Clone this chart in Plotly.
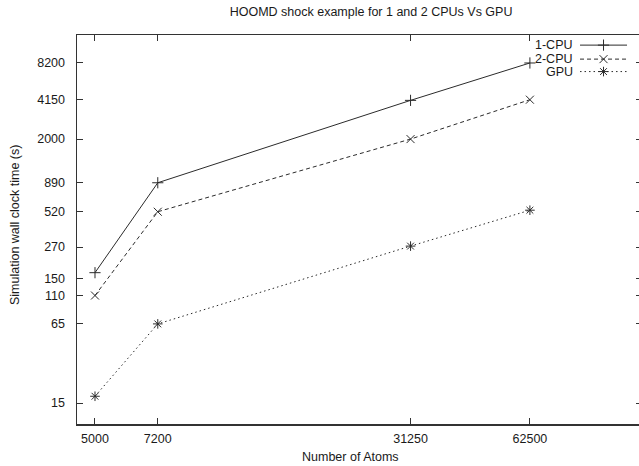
import plotly.graph_objects as go

# ---- data ----
atoms = [5000, 7200, 31250, 62500]
x_tick_labels = ["5000", "7200", "31250", "62500"]
cpu1_time = [168, 890, 4100, 8200]
cpu2_time = [110, 520, 2000, 4150]
gpu_time = [17, 65, 275, 535]
y_tick_values = [15, 65, 110, 150, 270, 520, 890, 2000, 4150, 8200]
series_names = ["1-CPU", "2-CPU", "GPU"]

FONT = "Liberation Sans, Arial, sans-serif"
INK = "#1a1a1a"
LINE = "#2b2b2b"
BORDER = "#333333"
FS = 12.5
MS = 8

styles = [
    dict(dash="solid", symbol="cross-thin-open"),
    dict(dash="4px,3px", symbol="x-thin-open"),
    dict(dash="1.5px,3px", symbol="asterisk-open"),
]

fig = go.Figure()
for name, vals, st in zip(series_names, [cpu1_time, cpu2_time, gpu_time], styles):
    fig.add_trace(go.Scatter(
        x=atoms, y=vals, name=name, mode="lines+markers",
        line=dict(color=LINE, width=1, dash=st["dash"]),
        marker=dict(symbol=st["symbol"], size=MS, color=LINE,
                    line=dict(color=LINE, width=1)),
        showlegend=False, hoverinfo="skip",
    ))

# ---- gnuplot-style key (text right-aligned, sample on the right) ----
key_rows_y = [0.974, 0.938, 0.906]
key_text_x = 0.8814
key_sample_x = [0.8903, 0.9735]
for name, st, ky in zip(series_names, styles, key_rows_y):
    fig.add_trace(go.Scatter(
        x=key_sample_x, y=[ky, ky], mode="lines", xaxis="x2", yaxis="y2",
        line=dict(color=LINE, width=1, dash=st["dash"]),
        showlegend=False, hoverinfo="skip",
    ))
    fig.add_trace(go.Scatter(
        x=[sum(key_sample_x) / 2], y=[ky], mode="markers", xaxis="x2", yaxis="y2",
        marker=dict(symbol=st["symbol"], size=MS, color=LINE,
                    line=dict(color=LINE, width=1)),
        showlegend=False, hoverinfo="skip",
    ))
    fig.add_annotation(
        x=key_text_x, y=ky, xref="paper", yref="paper", text=name,
        showarrow=False, xanchor="right", yanchor="middle",
        font=dict(family=FONT, size=FS, color=INK),
    )

# axis titles placed like gnuplot's labels
fig.add_annotation(x=0.4832, y=-0.0848, xref="paper", yref="paper",
                   text="Number of Atoms", showarrow=False,
                   xanchor="center", yanchor="middle",
                   font=dict(family=FONT, size=FS, color=INK))
fig.add_annotation(x=-0.1097, y=0.5116, xref="paper", yref="paper",
                   text="Simulation wall clock time (s)", showarrow=False,
                   textangle=-90, xanchor="center", yanchor="middle",
                   font=dict(family=FONT, size=FS, color=INK))

# The gnuplot frame's right border sits just past the 639 px window edge,
# so the canvas is a few pixels wider and the overflow is hidden.
fig.update_layout(
    width=642, height=466,
    margin=dict(l=77, r=0, t=35, b=42, autoexpand=False),
    paper_bgcolor="white", plot_bgcolor="white",
    font=dict(family=FONT, size=FS, color=INK),
    title=dict(text="HOOMD shock example for 1 and 2 CPUs Vs GPU",
               x=0.578, xanchor="center", y=0.974, yanchor="middle",
               font=dict(family=FONT, size=FS, color=INK)),
    xaxis=dict(
        type="log", range=[3.6536, 5.0786], automargin=False,
        tickvals=atoms, ticktext=x_tick_labels,
        ticks="inside", ticklen=6, tickwidth=1, tickcolor=BORDER,
        showline=True, linecolor=BORDER, linewidth=1.5, mirror="allticks",
        showgrid=False, zeroline=False,
        tickfont=dict(family=FONT, size=FS, color=INK),
        ticklabelstandoff=2,
    ),
    yaxis=dict(
        type="log", range=[1.007, 4.139], automargin=False,
        tickvals=y_tick_values, ticktext=[str(v) for v in y_tick_values],
        ticks="inside", ticklen=6, tickwidth=1, tickcolor=BORDER,
        showline=True, linecolor=BORDER, linewidth=1.5, mirror="allticks",
        showgrid=False, zeroline=False,
        tickfont=dict(family=FONT, size=FS, color=INK),
        ticklabelstandoff=8,
    ),
    xaxis2=dict(overlaying="x", range=[0, 1], visible=False, fixedrange=True),
    yaxis2=dict(overlaying="y", range=[0, 1], visible=False, fixedrange=True),
)

fig.write_html(
    "out.html",
    config={"displayModeBar": False, "staticPlot": True},
    post_script="document.documentElement.style.overflow='hidden';"
                "document.body.style.margin='0';document.body.style.overflow='hidden';",
)
